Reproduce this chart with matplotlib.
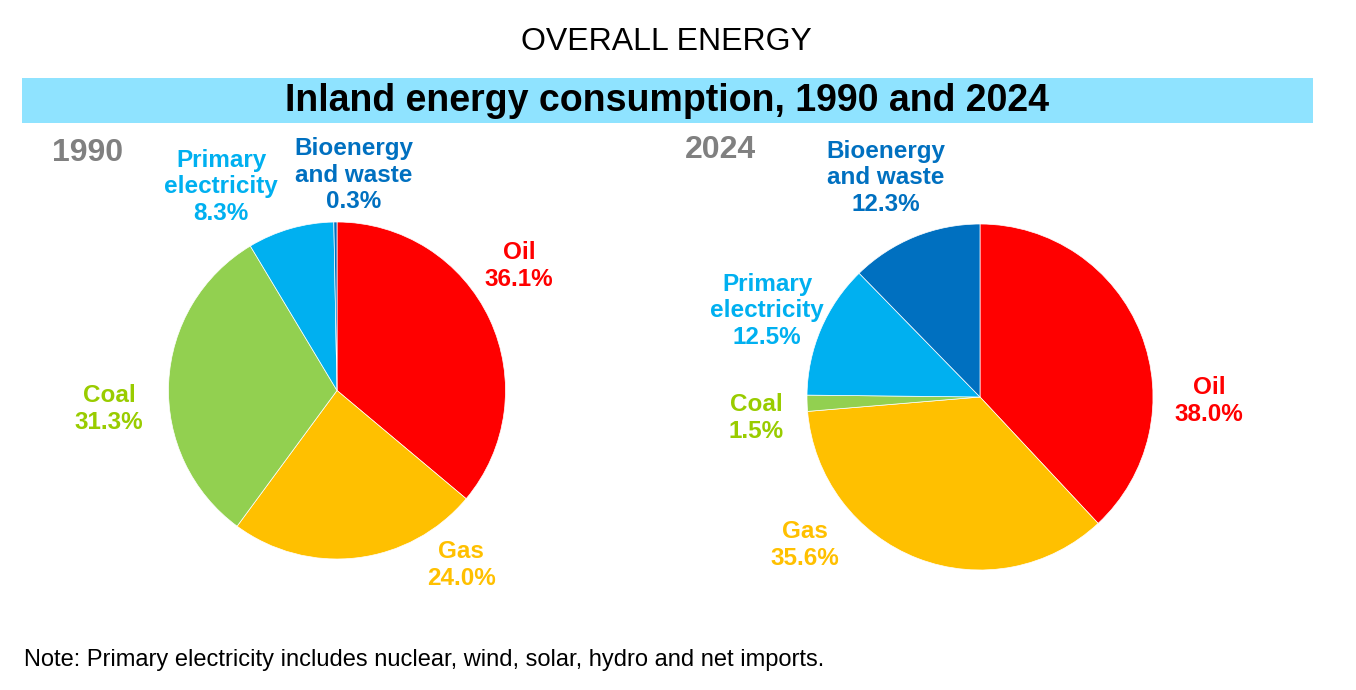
import matplotlib
matplotlib.use("Agg")
import matplotlib.pyplot as plt
from matplotlib.patches import Rectangle

plt.rcParams['font.family'] = ['Liberation Sans', 'DejaVu Sans']

W, H = 1356, 690

# ---- data ----
categories = ["Oil", "Gas", "Coal", "Primary\nelectricity", "Bioenergy\nand waste"]
shares_1990 = [36.1, 24.0, 31.3, 8.3, 0.3]
shares_2024 = [38.0, 35.6, 1.5, 12.5, 12.3]
years = ["1990", "2024"]
slice_colors = ["#FF0000", "#FFC000", "#92D050", "#00B0F0", "#0070C0"]
label_colors = ["#FF0000", "#FFC000", "#99CC00", "#00B0F0", "#0070C0"]

fig = plt.figure(figsize=(W / 100, H / 100), dpi=100)


def fx(x):
    return x / W


def fy(y):
    return 1 - y / H


# Header
fig.text(fx(666), fy(42), "OVERALL ENERGY", ha="center", va="center", fontsize=23, color="black")
fig.patches.append(Rectangle((fx(22), fy(123)), fx(1313) - fx(22), fy(78) - fy(123),
                             transform=fig.transFigure, facecolor="#8FE3FF", edgecolor="none", zorder=0))
fig.text(fx(667), fy(101), "Inland energy consumption, 1990 and 2024", ha="center", va="center",
         fontsize=27, fontweight="bold", color="black")


def draw_pie(cx, cy, r, values):
    ax = fig.add_axes([fx(cx - r), fy(cy + r), (2 * r) / W, (2 * r) / H])
    ax.pie(values, colors=slice_colors, startangle=90, counterclock=False, radius=1,
           wedgeprops=dict(edgecolor="white", linewidth=0.5))
    ax.set_xlim(-1, 1)
    ax.set_ylim(-1, 1)
    ax.set_aspect("equal")
    ax.axis("off")
    return ax


draw_pie(337, 390.5, 168.5, shares_1990)
draw_pie(980, 397, 173, shares_2024)

# Year labels
fig.text(fx(88), fy(153), years[0], ha="center", va="center", fontsize=23, fontweight="bold", color="#808080")
fig.text(fx(720), fy(150), years[1], ha="center", va="center", fontsize=23, fontweight="bold", color="#808080")

# slice label positions (pixel centres)
pos_1990 = [(519, 266), (461, 565), (109, 409), (221, 187), (354, 175)]
pos_2024 = [(1209, 401), (805, 545), (756, 418), (767, 311), (886, 178)]

for vals, poss in ((shares_1990, pos_1990), (shares_2024, pos_2024)):
    for name, v, (x, y), c in zip(categories, vals, poss, label_colors):
        fig.text(fx(x), fy(y), f"{name}\n{v:.1f}%", ha="center", va="center", fontsize=17.5,
                 fontweight="bold", color=c, linespacing=1.22)

fig.text(fx(24), fy(660), "Note: Primary electricity includes nuclear, wind, solar, hydro and net imports.",
         ha="left", va="center", fontsize=17, color="black")

fig.savefig("out.png", dpi=100, facecolor="white")
